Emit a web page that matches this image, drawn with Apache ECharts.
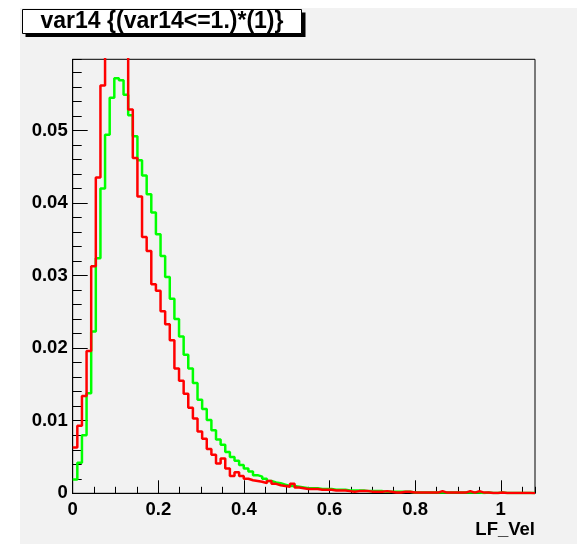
<!DOCTYPE html>
<html>
<head>
<meta charset="utf-8">
<script src="https://cdn.jsdelivr.net/npm/echarts@6/dist/echarts.min.js"></script>
<style>
html,body{margin:0;padding:0;background:#ffffff;}
#chart{width:577px;height:544px;}
</style>
</head>
<body>
<div id="chart"></div>
<script>
// Histogram binning (100 bins from 0 to 1.08)
const binWidth = 0.0108;
const titleText = "var14 {(var14<=1.)*(1)}";
const xAxisName = "LF_Vel";
const xTickLabels = ["0", "0.2", "0.4", "0.6", "0.8", "1"];
const yTickLabels = ["0", "0.01", "0.02", "0.03", "0.04", "0.05"];

// Green histogram (drawn first)
const greenValues = [
  0.0019, 0.0042, 0.0080, 0.0138, 0.0223, 0.0324, 0.0420, 0.0494, 0.0545, 0.0572,
  0.0569, 0.0549, 0.0521, 0.0492, 0.0459, 0.0438, 0.0412, 0.0387, 0.0357, 0.0327,
  0.0298, 0.0268, 0.0240, 0.0216, 0.0191, 0.0172, 0.0152, 0.0129, 0.0116, 0.0101,
  0.0087, 0.0074, 0.0067, 0.0057, 0.0050, 0.0045, 0.0039, 0.0034, 0.0030, 0.0025,
  0.0023, 0.0020, 0.0017, 0.0015, 0.0014, 0.0012, 0.0010, 0.0010, 0.0009, 0.0008,
  0.0007, 0.0007, 0.0007, 0.0006, 0.0006, 0.0006, 0.0005, 0.0005, 0.0005, 0.0004,
  0.0004, 0.0004, 0.0004, 0.0003, 0.0003, 0.0003, 0.0003, 0.0002, 0.0002, 0.0002,
  0.0002, 0.0002, 0.0002, 0.0001, 0.0001, 0.0001, 0.0001, 0.0001, 0.0001, 0.0001,
  0.0001, 0.0001, 0.0001, 0.0001, 0.0001, 0.0001, 0.0001, 0.0001, 0.00005, 0.0001,
  0.00005, 0.00005, 0.0001, 0.00005, 0.00005, 0.00005, 0.00005, 0.00005, 0.00005, 0.00005
];

// Red histogram (drawn on top; peak bins exceed the frame and are clipped)
const redValues = [
  0.0063, 0.0093, 0.0134, 0.0196, 0.0313, 0.0435, 0.0562, 0.0615, 0.0650, 0.0660,
  0.0645, 0.0610, 0.0529, 0.0462, 0.0409, 0.0353, 0.0334, 0.0288, 0.0279, 0.0251,
  0.0233, 0.0211, 0.0172, 0.0155, 0.0137, 0.0118, 0.0103, 0.0085, 0.0075, 0.0061,
  0.0053, 0.0041, 0.0048, 0.0034, 0.0024, 0.0029, 0.0024, 0.0020, 0.0018, 0.0017,
  0.0016, 0.0014, 0.0017, 0.0013, 0.0011, 0.0010, 0.0009, 0.0013, 0.0008, 0.0007,
  0.0006, 0.0006, 0.0006, 0.0005, 0.0005, 0.0005, 0.0004, 0.0004, 0.0004, 0.0003,
  0.0002, 0.0003, 0.0003, 0.0003, 0.0002, 0.0002, 0.0002, 0.0003, 0.0002, 0.0001,
  0.0001, 0.0002, 0.0002, 0.0001, 0.0001, 0.0001, 0.0001, 0.0001, 0.0001, 0.0003,
  0.0001, 0.0001, 0.0001, 0.0001, 0.0001, 0.0003, 0.0001, 0.0003, 0.0001, 0.0001,
  0.00005, 0.00005, 0.0001, 0.00005, 0.00005, 0.00005, 0.00005, 0.00005, 0.00005, 0.0
];

function toSteps(vals) {
  const pts = vals.map((v, i) => [i * binWidth, v]);
  pts.push([vals.length * binWidth, vals[vals.length - 1]]);
  return pts;
}

const FONT = '"Liberation Sans", Arial, Helvetica, sans-serif';
const BG = '#f2f2f2';
const xMax = 1.08;
const yMax = 0.0598;

const chart = echarts.init(document.getElementById('chart'), null, {renderer: 'canvas'});

const labelStyle = {color: '#000', fontFamily: FONT, fontWeight: 'bold', fontSize: 18.5};

chart.setOption({
  backgroundColor: 'transparent',
  animation: false,
  graphic: [
    {type: 'rect', z: -10, shape: {x: 20, y: 8, width: 557, height: 536}, style: {fill: BG}},
    {type: 'rect', z: 10, shape: {x: 25.5, y: 12.5, width: 280, height: 24.5}, style: {fill: '#000'}},
    {type: 'rect', z: 11, shape: {x: 22.5, y: 9.5, width: 279, height: 24}, style: {fill: '#fff', stroke: '#000', lineWidth: 1}},
    {type: 'text', z: 12, style: {text: titleText, x: 162, y: 22, align: 'center', verticalAlign: 'middle',
      font: 'bold 23px ' + FONT, fill: '#000'}}
  ],
  grid: {left: 72.7, top: 59.3, right: 42, bottom: 50.7, show: true, backgroundColor: BG,
    borderColor: '#000', borderWidth: 1},
  xAxis: [
    {type: 'value', min: 0, max: xMax, interval: 0.2, position: 'bottom',
      name: xAxisName, nameLocation: 'end', nameGap: 0,
      nameTextStyle: {color: '#000', fontFamily: FONT, fontWeight: 'bold', fontSize: 18.5,
        align: 'right', verticalAlign: 'top', padding: [27, 0, 0, 0]},
      axisLine: {show: true, lineStyle: {color: '#000', width: 1}},
      axisTick: {show: true, inside: true, length: 13, lineStyle: {color: '#000', width: 1}},
      splitLine: {show: false},
      axisLabel: Object.assign({margin: 7, showMaxLabel: false,
        formatter: function (v) { const i = Math.round(v / 0.2); return (Math.abs(v - i * 0.2) < 1e-6 && xTickLabels[i] !== undefined) ? xTickLabels[i] : ''; }}, labelStyle)},
    {type: 'value', min: 0, max: xMax, interval: 0.05, position: 'bottom',
      axisLine: {show: false}, axisLabel: {show: false}, splitLine: {show: false},
      axisTick: {show: true, inside: true, length: 6.5, lineStyle: {color: '#000', width: 1}}}
  ],
  yAxis: [
    {type: 'value', min: 0, max: yMax, interval: 0.01, position: 'left',
      axisLine: {show: true, lineStyle: {color: '#000', width: 1}},
      axisTick: {show: true, inside: true, length: 15, lineStyle: {color: '#000', width: 1}},
      splitLine: {show: false},
      axisLabel: Object.assign({margin: 5, showMaxLabel: false,
        formatter: function (v) { const i = Math.round(v / 0.01); return (Math.abs(v - i * 0.01) < 1e-7 && yTickLabels[i] !== undefined) ? yTickLabels[i] : ''; }}, labelStyle)},
    {type: 'value', min: 0, max: yMax, interval: 0.002, position: 'left',
      axisLine: {show: false}, axisLabel: {show: false}, splitLine: {show: false},
      axisTick: {show: true, inside: true, length: 9, lineStyle: {color: '#000', width: 1}}}
  ],
  series: [
    {type: 'line', name: 'green', xAxisIndex: 0, yAxisIndex: 0, step: 'end', clip: true,
      showSymbol: false, symbol: 'none', data: toSteps(greenValues),
      lineStyle: {color: '#00ff00', width: 2.5}, z: 3},
    {type: 'line', name: 'red', xAxisIndex: 0, yAxisIndex: 0, step: 'end', clip: true,
      showSymbol: false, symbol: 'none', data: toSteps(redValues),
      lineStyle: {color: '#ff0000', width: 2.5}, z: 4}
  ]
});
</script>
</body>
</html>
